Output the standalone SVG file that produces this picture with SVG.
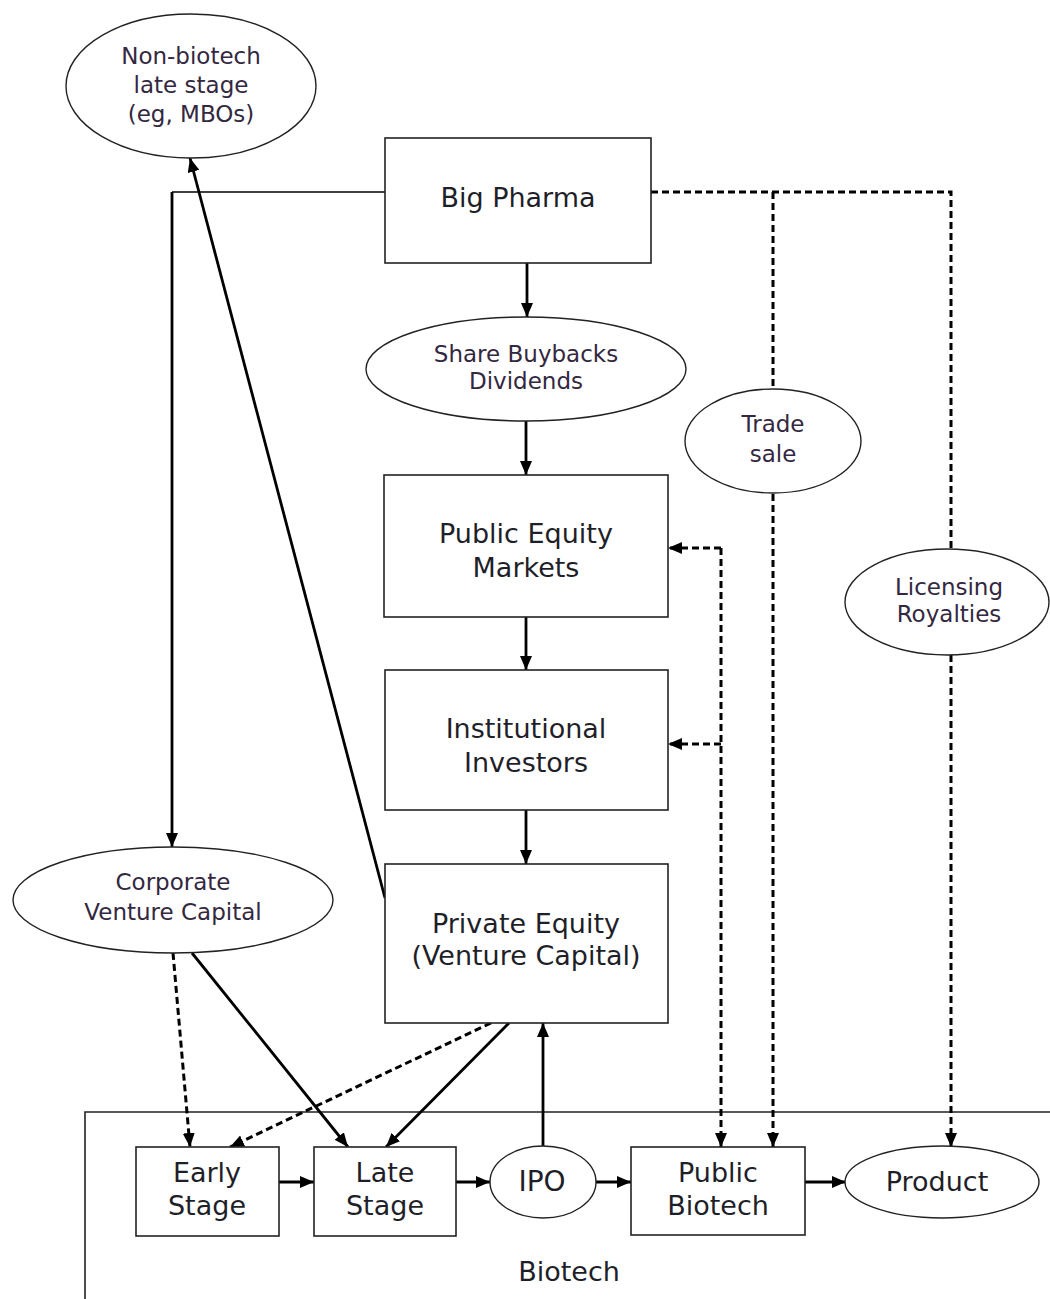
<svg xmlns="http://www.w3.org/2000/svg" width="1050" height="1299" viewBox="0 0 1050 1299">
<defs>
<marker id="ah" viewBox="0 0 14 12" refX="14" refY="6" markerWidth="14" markerHeight="12" markerUnits="userSpaceOnUse" orient="auto">
<path d="M0,0 L14,6 L0,12 Z" fill="#000"/>
</marker>
</defs>
<style>
.box{fill:#fff;stroke:#222;stroke-width:1.6}
.ell{fill:#fff;stroke:#222;stroke-width:1.4}
.bt{font-family:"DejaVu Sans",Verdana,sans-serif;font-size:27px;fill:#1f1f2a;text-anchor:middle}
.et{font-family:"DejaVu Sans",Verdana,sans-serif;font-size:23px;fill:#33283f;text-anchor:middle}
.sol{fill:none;stroke:#000;stroke-width:2.8}
.thin{fill:none;stroke:#000;stroke-width:1.6}
.dash{fill:none;stroke:#000;stroke-width:3;stroke-dasharray:7 4}
</style>
<rect width="1050" height="1299" fill="#fff"/>
<g id="biotech-frame">
<path d="M85,1299 L85,1112 L1050,1112" fill="none" stroke="#222" stroke-width="1.6"/>
<text class="bt" x="569" y="1281">Biotech</text>
</g>
<g id="connectors">
<path class="thin" d="M385,192 L172,192"/>
<path class="sol" d="M172,192 L172,847" marker-end="url(#ah)"/>
<path class="sol" d="M385,898 L190,158" marker-end="url(#ah)"/>
<path class="sol" d="M527,263 L527,317" marker-end="url(#ah)"/>
<path class="sol" d="M526,421 L526,475" marker-end="url(#ah)"/>
<path class="sol" d="M526,617 L526,670" marker-end="url(#ah)"/>
<path class="sol" d="M526,810 L526,864" marker-end="url(#ah)"/>
<path class="dash" d="M173,953 L190,1147" marker-end="url(#ah)"/>
<path class="sol" d="M192,953 L348,1147" marker-end="url(#ah)"/>
<path class="dash" d="M491,1023 L230,1147" marker-end="url(#ah)"/>
<path class="sol" d="M509,1023 L386,1147" marker-end="url(#ah)"/>
<path class="sol" d="M543,1147 L543,1023" marker-end="url(#ah)"/>
<path class="sol" d="M279,1182 L314,1182" marker-end="url(#ah)"/>
<path class="sol" d="M456,1182 L490,1182" marker-end="url(#ah)"/>
<path class="sol" d="M596,1182 L631,1182" marker-end="url(#ah)"/>
<path class="sol" d="M805,1182 L846,1182" marker-end="url(#ah)"/>
<path class="dash" d="M651,192 L951,192 L951,549"/>
<path class="dash" d="M773,192 L773,389"/>
<path class="dash" d="M773,494 L773,1147" marker-end="url(#ah)"/>
<path class="dash" d="M951,655 L951,1147" marker-end="url(#ah)"/>
<path class="dash" d="M721,548 L721,1147" marker-end="url(#ah)"/>
<path class="dash" d="M721,548 L668,548" marker-end="url(#ah)"/>
<path class="dash" d="M721,744 L668,744" marker-end="url(#ah)"/>
</g>
<g id="non-biotech">
<ellipse class="ell" cx="191" cy="86" rx="125" ry="72"/>
<text class="et" x="191" y="64">Non-biotech</text>
<text class="et" x="191" y="93">late stage</text>
<text class="et" x="191" y="122">(eg, MBOs)</text>
</g>
<g id="big-pharma">
<rect class="box" x="385" y="138" width="266" height="125"/>
<text class="bt" x="518" y="207">Big Pharma</text>
</g>
<g id="share-buybacks">
<ellipse class="ell" cx="526" cy="369" rx="160" ry="52"/>
<text class="et" x="526" y="362">Share Buybacks</text>
<text class="et" x="526" y="389">Dividends</text>
</g>
<g id="trade-sale">
<ellipse class="ell" cx="773" cy="441" rx="88" ry="52"/>
<text class="et" x="773" y="432">Trade</text>
<text class="et" x="773" y="462">sale</text>
</g>
<g id="licensing">
<ellipse class="ell" cx="947" cy="602" rx="102" ry="53"/>
<text class="et" x="949" y="595">Licensing</text>
<text class="et" x="949" y="622">Royalties</text>
</g>
<g id="public-equity-markets">
<rect class="box" x="384" y="475" width="284" height="142"/>
<text class="bt" x="526" y="543">Public Equity</text>
<text class="bt" x="526" y="577">Markets</text>
</g>
<g id="institutional-investors">
<rect class="box" x="385" y="670" width="283" height="140"/>
<text class="bt" x="526" y="738">Institutional</text>
<text class="bt" x="526" y="772">Investors</text>
</g>
<g id="private-equity">
<rect class="box" x="385" y="864" width="283" height="159"/>
<text class="bt" x="526" y="933">Private Equity</text>
<text class="bt" x="526" y="965">(Venture Capital)</text>
</g>
<g id="corporate-vc">
<ellipse class="ell" cx="173" cy="900" rx="160" ry="53"/>
<text class="et" x="173" y="890">Corporate</text>
<text class="et" x="173" y="920">Venture Capital</text>
</g>
<g id="early-stage">
<rect class="box" x="136" y="1147" width="143" height="89"/>
<text class="bt" x="207" y="1182">Early</text>
<text class="bt" x="207" y="1215">Stage</text>
</g>
<g id="late-stage">
<rect class="box" x="314" y="1147" width="142" height="89"/>
<text class="bt" x="385" y="1182">Late</text>
<text class="bt" x="385" y="1215">Stage</text>
</g>
<g id="ipo">
<ellipse class="ell" cx="543" cy="1182" rx="53" ry="36"/>
<text class="bt" x="542" y="1191" style="font-size:28px">IPO</text>
</g>
<g id="public-biotech">
<rect class="box" x="631" y="1147" width="174" height="88"/>
<text class="bt" x="718" y="1182">Public</text>
<text class="bt" x="718" y="1215">Biotech</text>
</g>
<g id="product">
<ellipse class="ell" cx="942" cy="1182" rx="97" ry="36"/>
<text class="bt" x="937" y="1191">Product</text>
</g>
</svg>
